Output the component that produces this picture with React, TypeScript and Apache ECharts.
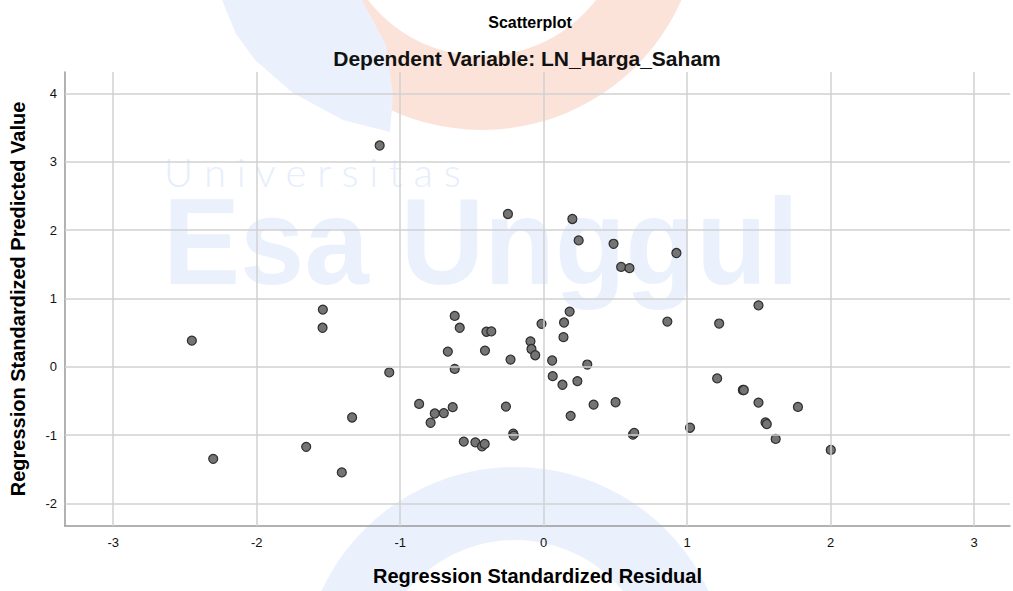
import React, { useEffect, useRef } from "react";
import * as echarts from "echarts";

const titleText = "Scatterplot";
const subtitleText = "Dependent Variable: LN_Harga_Saham";
const xName = "Regression Standardized Residual";
const yName = "Regression Standardized Predicted Value";

const xTicks = [-3, -2, -1, 0, 1, 2, 3];
const yTicks = [-2, -1, 0, 1, 2, 3, 4];

const residuals = [
  -2.452, -2.303, -1.655, -1.539, -1.541, -1.407, -1.335, -1.143, -1.076, -0.868,
  -0.788, -0.759, -0.696, -0.668, -0.634, -0.62, -0.62, -0.585, -0.557, -0.476,
  -0.43, -0.411, -0.409, -0.399, -0.365, -0.263, -0.249, -0.231, -0.212, -0.208,
  -0.092, -0.085, -0.059, -0.015, 0.059, 0.063, 0.131, 0.138, 0.142, 0.181,
  0.188, 0.2, 0.235, 0.244, 0.304, 0.348, 0.487, 0.501, 0.54, 0.598,
  0.622, 0.631, 0.862, 0.925, 1.02, 1.209, 1.223, 1.388, 1.395, 1.497,
  1.497, 1.546, 1.555, 1.617, 1.772, 2.001,
];
const predicted = [
  0.382, -1.347, -1.172, 0.837, 0.571, -1.546, -0.742, 3.238, -0.083, -0.543,
  -0.819, -0.684, -0.678, 0.222, -0.591, 0.745, -0.031, 0.571, -1.095, -1.106,
  -1.164, -1.129, 0.237, 0.513, 0.517, -0.583, 2.236, 0.106, -0.979, -1.008,
  0.372, 0.26, 0.169, 0.629, 0.092, -0.137, -0.263, 0.434, 0.648, 0.808,
  -0.718, 2.163, -0.209, 1.849, 0.033, -0.554, 1.8, -0.519, 1.462, 1.443,
  -0.994, -0.969, 0.662, 1.665, -0.892, -0.17, 0.633, -0.34, -0.34, 0.899,
  -0.524, -0.815, -0.838, -1.056, -0.587, -1.216,
];

const FONT = "'Liberation Sans', Arial, sans-serif";
const WM_BLUE = "#eaf1fd";

export default function App() {
  const ref = useRef<HTMLDivElement>(null);
  useEffect(() => {
    if (!ref.current) return;
    const chart = echarts.init(ref.current, null, { renderer: "svg" });
    const points = residuals.map((x, i) => [x, predicted[i]]);
    const gridLines = [
      ...xTicks.map((v) => ({ xAxis: v })),
      ...yTicks.map((v) => ({ yAxis: v })),
    ];
    const fmt = (ticks: number[]) => (v: number) =>
      ticks.some((t) => Math.abs(t - v) < 1e-9) ? String(v) : "";
    chart.setOption({
      animation: false,
      backgroundColor: "#ffffff",
      textStyle: { fontFamily: FONT },
      graphic: [
        {
          type: "ring",
          z: -10,
          silent: true,
          shape: { cx: 482, cy: -88, r: 218, r0: 144 },
          style: { fill: "#fce3da" },
        },
        {
          type: "polygon",
          z: -9,
          silent: true,
          shape: {
            points: [
              [222, 0], [236, 34], [255, 60], [293, 93], [343, 120], [390, 132],
              [393, 95], [386, 45], [362, 0],
            ],
          },
          style: { fill: WM_BLUE },
        },
        {
          type: "ring",
          z: -10,
          silent: true,
          shape: { cx: 515, cy: 680, r: 213, r0: 140 },
          style: { fill: WM_BLUE },
        },
        {
          type: "text",
          z: -10,
          silent: true,
          x: 164,
          y: 152,
          style: {
            text: "U n i v e r s i t a s",
            fontSize: 40,
            fontFamily: "Lato, 'Liberation Sans', sans-serif",
            fontWeight: 300,
            fill: "#e6eefc",
            verticalAlign: "top",
          },
        },
        {
          type: "text",
          z: -10,
          silent: true,
          x: 163,
          y: 180,
          scaleX: 0.94,
          style: {
            text: "Esa Unggul",
            fontSize: 123,
            fontFamily: FONT,
            fontWeight: "bold",
            fill: WM_BLUE,
            verticalAlign: "top",
          },
        },
        {
          type: "text",
          x: 530,
          y: 22,
          style: {
            text: titleText,
            fontSize: 16,
            fontWeight: "bold",
            fontFamily: FONT,
            fill: "#000",
            align: "center",
            verticalAlign: "middle",
          },
        },
        {
          type: "text",
          x: 527,
          y: 58,
          style: {
            text: subtitleText,
            fontSize: 21,
            fontWeight: "bold",
            fontFamily: FONT,
            fill: "#111",
            align: "center",
            verticalAlign: "middle",
          },
        },
      ],
      grid: { left: 65, right: 0, top: 72, bottom: 61, containLabel: false },
      xAxis: {
        type: "value",
        min: -3.336,
        max: 3.25,
        minInterval: 1,
        maxInterval: 1,
        name: xName,
        nameLocation: "middle",
        nameGap: 40,
        nameTextStyle: { fontSize: 20, fontWeight: "bold", color: "#000", fontFamily: FONT },
        axisLine: { show: true, onZero: false, lineStyle: { color: "#999999", width: 1.5 } },
        axisTick: { show: false },
        splitLine: { show: false },
        axisLabel: { formatter: fmt(xTicks), color: "#111", fontSize: 13, margin: 10, fontFamily: FONT },
      },
      yAxis: {
        type: "value",
        min: -2.33,
        max: 4.314,
        minInterval: 1,
        maxInterval: 1,
        name: yName,
        nameLocation: "middle",
        nameGap: 37,
        nameTextStyle: { fontSize: 20, fontWeight: "bold", color: "#000", fontFamily: FONT },
        axisLine: { show: true, onZero: false, lineStyle: { color: "#999999", width: 1.5 } },
        axisTick: { show: false },
        splitLine: { show: false },
        axisLabel: { formatter: fmt(yTicks), color: "#111", fontSize: 13, margin: 8, fontFamily: FONT },
      },
      series: [
        {
          type: "scatter",
          data: [],
          z: 1,
          silent: true,
          markLine: {
            silent: true,
            symbol: "none",
            label: { show: false },
            lineStyle: { color: "#d0d0d0", width: 1.5, type: "solid" },
            emphasis: { disabled: true },
            data: gridLines,
          },
        },
        {
          type: "scatter",
          z: 3,
          data: points,
          symbol: "circle",
          symbolSize: 9,
          itemStyle: { color: "#747474", borderColor: "#2e2e2e", borderWidth: 1.2, opacity: 1 },
        },
      ],
    });
    return () => chart.dispose();
  }, []);
  return (
    <div
      ref={ref}
      style={{ position: "fixed", left: 0, top: 0, width: 1013, height: 591 }}
    />
  );
}
